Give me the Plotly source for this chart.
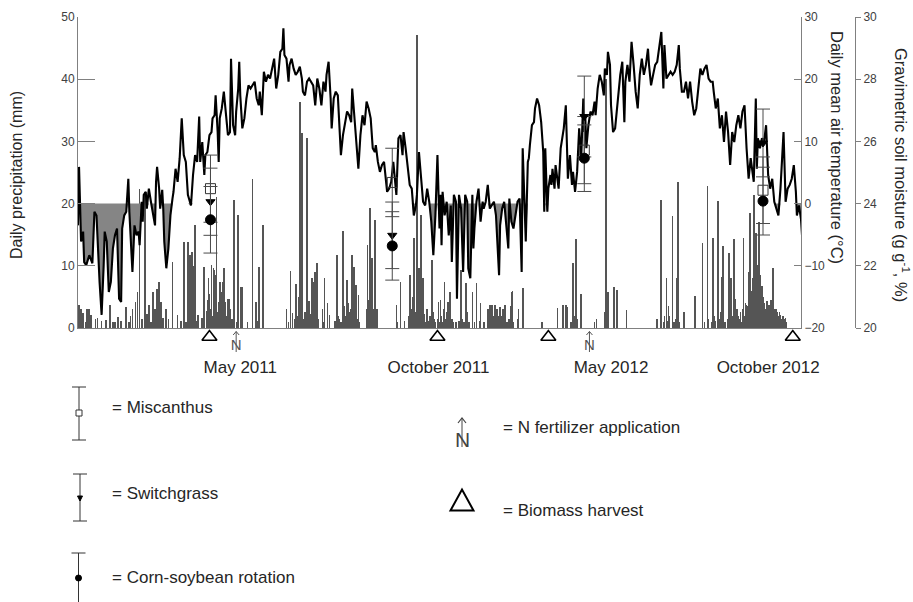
import plotly.graph_objects as go

# ---------------- data (x = day counted from 1 Jan 2011) ----------------
precip = [
    (1,3.7),(2,1.2),(3,3.1),(5,2.4),(8,1.0),(9,3.1),(11,3.1),(13,2.1),(17,1.4),
    (19,1.6),(23,1.1),(27,1.3),(31,3.7),(34,1.0),(36,0.9),(39,1.8),(42,1.2),
    (47,3.4),(50,1.0),(51,2.0),(53,3.1),(56,4.2),(58,5.8),(60,22.4),(62,1.5),(65,21.9),
    (67,2.2),(69,3.7),(71,1.0),(73,5.8),(75,3.1),(77,6.3),(79,7.4),(81,4.2),(83,1.6),(86,3.1),
    (88,1.4),(92,10.6),(97,2.1),(100,1.2),(103,13.9),(105,0.9),(107,13.9),(108,2.5),(109,11.7),
    (110,3.5),(111,12.2),(112,9.9),(113,4.7),(114,16.5),(115,1.2),(117,2.1),(121,1.6),(123,9.8),
    (125,2.8),(126,4.5),(127,8.0),(128,5.5),(129,3.0),(130,10.1),(131,2.0),(132,9.6),(133,9.3),(134,8.5),
    (135,21.1),(136,2.6),(137,4.2),(138,7.4),(139,5.8),(140,1.2),(141,7.4),(142,9.6),(143,4.2),(144,2.0),
    (145,1.2),(146,4.7),(147,4.7),(148,3.1),(150,1.5),(152,20.6),(155,1.0),(156,18.2),
    (159,6.6),(160,6.6),(165,1.0),(170,24.0),(173,4.2),(175,1.2),
    (176,9.8),(180,16.5),
    (203,3.1),(205,1.0),(207,9.1),(209,2.4),(211,1.5),(212,7.0),(214,2.0),(215,5.0),(216,36.3),(217,3.5),
    (218,31.3),(219,1.5),(220,1.2),(221,2.5),(223,30.5),(224,1.8),(225,4.3),(226,1.0),(227,2.2),(228,8.0),
    (229,7.4),(230,3.0),(231,9.0),(232,2.0),(233,10.4),(234,1.5),(238,3.1),(239,1.0),(240,8.0),
    (243,4.0),(245,2.1),(250,1.2),(252,11.8),(253,2.0),(254,1.5),(256,1.0),(258,15.6),
    (259,3.5),(260,1.8),(261,2.0),(262,7.7),(263,4.0),(264,1.5),(265,2.5),(266,3.0),(267,11.7),(268,5.0),
    (269,9.8),(270,2.5),(271,6.9),(272,1.5),(273,5.3),(274,1.0),(281,3.0),(282,13.3),(283,4.5),
    (284,19.3),(285,2.0),(286,11.2),(287,3.0),(288,1.2),(289,17.3),(291,3.1),
    (310,3.7),(311,1.0),(314,7.4),(318,1.2),(322,2.0),(323,8.5),(324,3.0),
    (325,1.5),(326,5.0),(327,14.4),(328,2.5),(329,1.0),(330,47.1),(331,3.5),(332,9.6),(333,2.0),(334,18.1),
    (335,1.5),(336,8.0),(337,2.2),(338,1.0),(340,3.1),(342,1.2),(343,2.0),(344,1.0),(345,10.9),
    (346,2.5),(347,1.5),(348,1.0),(350,1.5),(351,4.2),(352,1.0),
    (353,4.5),(354,2.0),(355,1.0),(356,3.0),(357,7.4),(358,1.5),(359,2.5),(360,4.2),(361,1.0),(362,5.8),
    (364,1.5),(365,1.0),(368,1.0),(371,1.2),(373,9.3),(374,1.5),(376,1.0),
    (378,7.2),(379,2.5),(381,1.0),(384,5.8),(386,1.0),(388,7.2),(391,1.2),
    (392,4.0),(395,1.0),(399,3.0),(400,2.0),(401,3.7),(402,2.5),(403,3.7),(404,2.0),
    (405,1.0),(406,3.7),(407,2.2),(408,3.1),(409,1.5),(410,2.0),(411,3.4),(412,1.0),(413,2.0),(414,3.1),
    (415,1.0),(416,3.7),(418,1.0),(420,1.5),(421,3.5),(422,5.8),(423,5.9),(424,1.0),
    (428,1.5),(429,3.1),(433,6.5),
    (452,1.0),(467,3.2),(472,3.7),(475,3.7),(476,3.4),(480,1.0),(482,10.4),(483,2.0),
    (485,14.3),(486,1.5),(490,5.5),(503,1.0),(505,1.5),
    (513,2.5),(514,40.0),(515,1.0),(516,5.8),(522,6.6),(525,6.1),(534,2.9),
    (564,1.4),(568,20.6),(570,1.0),(571,2.0),(573,8.1),(574,1.2),(575,3.5),(576,2.0),(579,18.0),
    (580,1.0),(582,1.5),(583,8.0),(584,23.5),(585,1.0),(590,2.6),(601,5.2),
    (608,13.7),(610,1.0),(613,22.8),(614,1.5),(617,1.0),(618,14.4),(619,2.0),(620,1.2),
    (623,20.4),(625,1.5),(626,2.5),(627,8.2),(628,13.2),(630,1.0),(633,1.5),(634,12.1),(635,2.5),
    (636,8.0),(637,1.0),(638,2.0),(639,14.3),(640,4.6),(641,1.5),(642,3.0),(643,2.0),(644,1.4),(645,2.5),
    (646,1.0),(647,3.0),(648,14.4),(649,2.0),(650,4.0),(651,3.7),(652,3.5),(653,9.0),(654,18.5),(655,5.8),
    (656,6.0),(657,8.0),(658,21.4),(659,7.4),(660,15.2),(661,9.0),(662,10.1),(663,17.0),(664,8.5),(665,6.0),
    (666,6.8),(667,5.0),(668,4.0),(669,3.1),(670,2.5),(671,4.3),(672,3.0),(673,3.7),(674,2.0),(675,4.5),
    (676,3.0),(677,9.6),(678,2.5),(679,3.1),(680,3.0),(681,2.6),(682,2.0),(683,2.5),(684,2.1),(685,1.5),
    (686,2.0),(687,1.9),(688,1.5),(689,1.6),(690,1.0),
]

temperature = [
    (0,-3.5),(1,5.9),(3,-6.1),(5,-4.5),(6,-9.4),(8,-9.9),(11,-8.3),(14,-9.6),(16,-1.3),(18,-1.9),(21,-12.6),
    (23,-17.9),(25,-9.9),(26,-4.5),(28,-6.1),(30,-14.2),(32,-12.6),(34,-7.2),(36,-5.1),(38,-4.0),(40,-15.3),
    (42,-15.8),(43,-4.0),(45,-1.9),(47,-1.3),(49,4.0),(50,-1.3),(52,-8.3),(53,-11.0),(55,-3.5),(57,-5.1),
    (59,-4.5),(60,-6.7),(62,0.3),(63,-2.9),(64,1.4),(66,1.9),(67,-0.8),(69,2.4),(71,0.3),(73,-1.9),(75,-3.5),
    (76,3.5),(77,5.9),(79,2.4),(80,-0.8),(82,2.2),(83,-0.8),(84,-6.1),(86,-10.4),(88,-7.2),(90,-1.9),(92,0.8),
    (93,1.9),(95,5.6),(97,3.5),(99,7.3),(101,13.7),(103,7.8),(105,6.7),(107,1.4),(110,-0.3),(112,4.6),
    (114,7.8),(116,6.7),(118,14.0),(119,6.7),(121,9.9),(123,4.6),(124,7.8),(126,8.3),(128,11.0),(130,11.5),
    (131,13.7),(133,14.2),(134,17.4),(136,11.5),(137,6.7),(138,13.7),(140,15.3),(142,18.0),(144,14.2),
    (146,11.0),(148,11.5),(149,23.3),(151,12.6),(153,11.0),(154,14.8),(156,18.5),(157,22.8),(158,17.4),
    (160,12.1),(162,13.7),(164,16.9),(166,19.0),(168,18.5),(170,19.0),(172,19.6),(174,16.9),(176,15.8),
    (177,18.0),(179,14.2),(181,21.2),(183,19.6),(185,20.7),(187,20.1),(189,21.7),(191,23.3),(193,18.5),
    (195,20.7),(197,24.4),(199,24.9),(200,28.2),(201,23.9),(203,23.3),(205,19.6),(206,22.3),(208,23.3),
    (210,21.7),(212,20.7),(214,21.2),(216,22.0),(218,20.1),(219,18.0),(221,17.4),(223,19.6),(225,20.1),
    (227,19.6),(229,19.0),(231,15.8),(233,20.1),(235,18.5),(237,15.8),(239,19.6),(241,18.0),(242,20.7),
    (244,22.8),(246,16.9),(247,12.1),(249,16.9),(251,18.0),(253,17.4),(254,14.2),(256,7.8),(258,11.0),
    (260,13.1),(262,14.8),(264,14.2),(266,13.1),(267,18.5),(269,14.2),(271,8.9),(273,5.6),(275,11.0),
    (277,14.2),(279,12.6),(281,16.4),(283,15.3),(285,13.7),(287,8.9),(289,8.3),(290,9.4),(292,6.7),(294,5.1),
    (296,6.2),(298,6.7),(300,4.0),(301,1.9),(303,2.4),(305,3.5),(307,6.7),(308,5.1),(310,1.4),(312,10.5),
    (314,11.0),(316,7.8),(317,11.5),(319,8.9),(321,5.6),(323,3.0),(325,2.4),(327,-1.9),(329,-0.3),(330,1.4),
    (332,8.3),(334,4.6),(336,0.3),(338,-0.3),(340,2.4),(342,0.3),(344,-2.9),(346,-8.3),(348,-1.9),(350,7.8),
    (352,-4.0),
    (353,1.4),(354,-6.7),(355,1.9),(357,-1.9),(359,0.3),(361,-5.1),(363,-0.3),(364,-9.4),(366,1.4),(368,0.3),
    (369,-15.3),(371,1.4),(373,-0.8),(375,-11.0),(377,1.4),(379,0.3),(380,-10.4),(382,-12.0),(384,1.4),
    (385,-7.2),(386,-4.0),(388,0.3),(390,2.4),(392,-2.9),(394,0.3),(395,-0.8),(397,0.3),(399,3.0),(401,-0.8),
    (403,-0.3),(405,0.3),(407,-1.9),(408,-5.1),(410,-11.5),(411,-3.5),(413,-0.8),(415,0.3),(417,-2.9),
    (419,-7.2),(420,0.8),(422,-2.9),(424,-4.0),(426,-1.9),(428,0.3),(430,0.8),(432,-11.0),(433,8.9),(435,0.3),
    (436,-6.1),(438,6.7),(439,7.3),(440,9.4),(442,12.6),(444,13.1),(445,15.3),(447,16.9),(449,15.8),
    (451,13.1),(453,8.3),(454,-1.3),(455,8.9),(457,-1.3),(458,2.4),(460,4.6),(461,3.0),(462,5.6),(464,2.4),
    (465,6.2),(466,4.6),(468,2.4),(470,8.9),(473,12.1),(475,15.8),(477,4.0),(479,7.8),(480,5.6),(481,3.0),
    (482,5.1),(484,1.9),(486,5.1),(488,12.1),(490,7.3),(492,16.9),(493,11.5),(494,13.7),(495,8.9),(497,12.6),
    (499,14.8),(501,14.2),(503,16.4),(504,14.2),(506,18.5),(508,20.7),(510,19.6),(512,17.4),(513,21.7),
    (515,20.7),(516,24.4),(518,22.3),(519,15.8),(521,11.5),(523,12.1),(525,15.8),(527,19.6),
    (528,20.7),(530,22.8),(532,13.1),(533,19.6),(535,22.3),(537,19.6),(539,26.0),(541,22.3),(543,18.0),
    (545,15.3),(547,20.7),(549,23.3),(551,20.7),(553,22.3),(555,24.9),(556,22.3),(558,19.0),(560,20.7),
    (562,22.3),(564,22.8),(566,24.9),(568,27.6),(570,18.5),(571,25.5),(573,20.1),(575,20.7),(577,21.2),
    (579,20.7),(581,21.2),(583,22.3),(585,25.5),(586,21.7),(588,18.0),(590,18.0),(592,19.6),(594,16.9),
    (596,19.6),(598,16.4),(600,14.2),(602,15.3),(604,18.0),(606,21.7),(608,20.7),(610,21.7),(612,22.3),
    (614,20.1),(616,19.6),(618,19.6),(619,18.0),(621,15.3),(623,16.9),(625,12.1),(627,14.2),(629,9.9),
    (631,14.8),(633,11.5),(635,6.2),(637,11.5),(639,9.9),(641,12.6),(643,14.2),(645,12.1),(647,14.8),
    (649,15.8),(651,8.9),(653,4.0),(655,7.3),(656,6.2),(658,3.5),(660,16.9),(661,5.6),(662,10.5),(664,8.9),
    (666,10.5),(668,9.9),(670,12.6),(672,4.6),(674,2.4),(676,4.0),(678,0.3),(680,-0.8),(682,-1.9),(684,2.4),
    (686,7.3),(687,11.5),(689,0.3),(691,2.4),(693,3.0),(695,4.0),(697,6.2),(699,1.9),(700,-1.9),(702,-0.3),
    (704,-2.5),(705,-5.1),
]

sample_days = [129, 306, 493, 667]
miscanthus = [24.48, 24.68, 25.72, 24.43]
miscanthus_err = [1.08, 1.10, 1.08, 1.07]
switchgrass = [24.06, 22.98, 26.80, 25.95]
switchgrass_err = [1.08, 1.07, 1.30, 1.09]
corn_soy = [23.48, 22.64, 25.46, 24.08]
corn_soy_err = [1.07, 1.10, 1.07, 1.09]

harvest_days = [128, 350, 458, 696]
n_fert_days = [154, 498]

month_tick_days = [158, 351, 519, 672]
month_tick_text = ["May 2011", "October 2011", "May 2012", "October 2012"]

# ---------------- layout geometry ----------------
W, H = 913, 602
ML, MR, MT, MB = 78, 58, 17, 242          # plotting region 78..855 x 17..360
PW, PH = W - ML - MR, H - MT - MB
AXIS_Y = 328                               # pixel row of the time axis
XDOM = (801 - ML) / PW
YDOM0 = (H - MB - AXIS_Y) / PH
MM_PER_PX = 50 / (AXIS_Y - MT)
BAND_MIN = -(H - MB - AXIS_Y) * MM_PER_PX  # strip below the axis, same mm scale

def px(x):
    return (x - ML) / PW

def py(y):
    return (H - MB - y) / PH

def band(y):  # pixel row below the axis -> value on the strip axis
    return -(y - AXIS_Y) * MM_PER_PX

FONT = "Liberation Sans, Arial, sans-serif"
AX = "#808080"
TXT = "#262626"

p_day = [d for d, _ in precip]
p_mm = [v for _, v in precip]
t_day = [d for d, _ in temperature]
t_c = [v for _, v in temperature]

fig = go.Figure()

fig.add_trace(go.Bar(x=p_day, y=p_mm, width=0.7, marker=dict(color="#555555", line=dict(width=0)),
                     xaxis="x", yaxis="y", hoverinfo="skip"))

fig.add_trace(go.Scatter(x=t_day, y=[0] * len(t_day), mode="lines", line=dict(width=0),
                         xaxis="x", yaxis="y2", hoverinfo="skip"))
fig.add_trace(go.Scatter(x=t_day, y=[min(v, 0) for v in t_c], mode="lines", line=dict(width=0),
                         fill="tonexty", fillcolor="#858585", xaxis="x", yaxis="y2", hoverinfo="skip"))
fig.add_trace(go.Scatter(x=t_day, y=t_c, mode="lines", line=dict(color="black", width=2.1),
                         xaxis="x", yaxis="y2"))

def soil(vals, errs, symbol, size, fill):
    return go.Scatter(x=sample_days, y=vals, mode="markers", xaxis="x", yaxis="y3",
                      marker=dict(symbol=symbol, size=size, color=fill, line=dict(color="black", width=1)),
                      error_y=dict(type="data", array=errs, visible=True, color="#4a4a4a", thickness=1, width=7))

fig.add_trace(soil(miscanthus, miscanthus_err, "square-open", 10, "#333333"))
fig.add_trace(soil(switchgrass, switchgrass_err, "triangle-down", 8, "black"))
fig.add_trace(soil(corn_soy, corn_soy_err, "circle", 10, "black"))

# event markers in the strip under the time axis
fig.add_trace(go.Scatter(x=harvest_days, y=[band(337)] * len(harvest_days), mode="markers", cliponaxis=False,
                         marker=dict(symbol="triangle-up-open", size=13, color="black", line=dict(width=1.6)),
                         xaxis="x", yaxis="y4"))
fig.add_trace(go.Scatter(x=n_fert_days, y=[band(346)] * len(n_fert_days), mode="text", text=["N"] * len(n_fert_days),
                         cliponaxis=False, textfont=dict(family=FONT, size=15, color="#555555"),
                         xaxis="x", yaxis="y4"))

shapes = []
DAY_PER_PX = 704 / (801 - ML)
for d in n_fert_days:
    shapes.append(dict(type="line", xref="x", yref="y4", x0=d, x1=d, y0=band(352), y1=band(331.5),
                       line=dict(color="#555555", width=1)))
    shapes.append(dict(type="path", xref="x", yref="y4",
                       path=f"M {d - 3 * DAY_PER_PX} {band(335)} L {d} {band(331.5)} L {d + 3 * DAY_PER_PX} {band(335)}",
                       line=dict(color="#555555", width=1)))

annotations = []
# axis titles
annotations.append(dict(x=px(16), y=py(175), xref="paper", yref="paper", text="Daily precipitation (mm)",
                        xanchor="center", yanchor="middle",
                        textangle=-90, showarrow=False, font=dict(family=FONT, size=16, color=TXT)))
annotations.append(dict(x=px(837), y=py(147), xref="paper", yref="paper", text="Daily mean air temperature (°C)",
                        xanchor="center", yanchor="middle",
                        textangle=90, showarrow=False, font=dict(family=FONT, size=16.5, color=TXT)))
annotations.append(dict(x=px(902), y=py(175), xref="paper", yref="paper",
                        text="Gravimetric soil moisture (g g<sup>-1</sup>, %)",
                        xanchor="center", yanchor="middle",
                        textangle=90, showarrow=False, font=dict(family=FONT, size=16.5, color=TXT)))

# ---------------- key below the chart ----------------
LEG = "#333333"
def errbar(xc, y0, y1, caps=(True, True)):
    shapes.append(dict(type="line", xref="paper", yref="paper", x0=px(xc), x1=px(xc), y0=py(y0), y1=py(y1),
                       line=dict(color=LEG, width=1)))
    for yy, c in zip((y0, y1), caps):
        if c:
            shapes.append(dict(type="line", xref="paper", yref="paper", x0=px(xc - 7), x1=px(xc + 7),
                               y0=py(yy), y1=py(yy), line=dict(color=LEG, width=1)))

errbar(79, 387, 440)
shapes.append(dict(type="rect", xref="paper", yref="paper", x0=px(76), x1=px(82), y0=py(410), y1=py(416),
                   line=dict(color=LEG, width=1), fillcolor="white"))
errbar(80, 474, 521)
shapes.append(dict(type="path", xref="paper", yref="paper",
                   path=f"M {px(77.5)} {py(496)} L {px(82.5)} {py(496)} L {px(80)} {py(501)} Z",
                   line=dict(color="black", width=1), fillcolor="black"))
errbar(78.5, 553, 603, caps=(True, False))
shapes.append(dict(type="circle", xref="paper", yref="paper", x0=px(75.5), x1=px(81.5), y0=py(575), y1=py(581),
                   line=dict(color="black", width=1), fillcolor="black"))
shapes.append(dict(type="path", xref="paper", yref="paper",
                   path=f"M {px(450.5)} {py(510.5)} L {px(473.5)} {py(510.5)} L {px(462)} {py(489.5)} Z",
                   line=dict(color="black", width=2), fillcolor="rgba(0,0,0,0)"))
# N-fertilizer key symbol
annotations.append(dict(x=px(462), y=py(439), xref="paper", yref="paper", text="N", showarrow=False,
                        xanchor="center", yanchor="middle",
                        font=dict(family=FONT, size=21, color="#444444")))
shapes.append(dict(type="line", xref="paper", yref="paper", x0=px(462), x1=px(462), y0=py(447), y1=py(418),
                   line=dict(color="#444444", width=1)))
shapes.append(dict(type="path", xref="paper", yref="paper",
                   path=f"M {px(458)} {py(423)} L {px(462)} {py(418)} L {px(466)} {py(423)}",
                   line=dict(color="#444444", width=1.2)))

for txt, x, y in [("= Miscanthus", 110, 407), ("= Switchgrass", 110, 493), ("= Corn-soybean rotation", 110, 577),
                  ("= N fertilizer application", 501, 427), ("= Biomass harvest", 501, 510)]:
    annotations.append(dict(x=px(x), y=py(y), xref="paper", yref="paper", text=txt, showarrow=False,
                            xanchor="left", yanchor="middle", font=dict(family=FONT, size=17, color=TXT)))

fig.update_layout(
    template="none",
    width=W, height=H,
    margin=dict(l=ML, r=MR, t=MT, b=MB, pad=0),
    paper_bgcolor="white", plot_bgcolor="rgba(0,0,0,0)",
    showlegend=False, barmode="overlay", bargap=0,
    font=dict(family=FONT, color=TXT),
    xaxis=dict(domain=[0, XDOM], range=[0, 704], anchor="y", showgrid=False, zeroline=False, showline=True,
               linecolor=AX, linewidth=1, ticks="outside", ticklen=24, tickcolor="rgba(0,0,0,0)",
               tickvals=month_tick_days, ticktext=month_tick_text,
               tickfont=dict(family=FONT, size=17, color=TXT), automargin=False),
    yaxis=dict(domain=[YDOM0, 1], range=[0, 50], tickvals=[0, 10, 20, 30, 40, 50], showgrid=False,
               zeroline=False, showline=True, linecolor=AX, linewidth=1, ticks="inside", ticklen=17,
               tickcolor=AX, tickfont=dict(family=FONT, size=12, color="#404040"), automargin=False),
    yaxis2=dict(domain=[YDOM0, 1], range=[-20, 30], tickvals=[-20, -10, 0, 10, 20, 30], overlaying="y",
                side="right", anchor="x", showgrid=False, zeroline=False, showline=True, linecolor=AX,
                linewidth=1, ticks="inside", ticklen=7, tickcolor=AX,
                tickfont=dict(family=FONT, size=12, color="#404040"), automargin=False),
    yaxis3=dict(domain=[YDOM0, 1], range=[20, 30], tickvals=[20, 22, 24, 26, 28, 30], overlaying="y",
                side="right", anchor="free", position=1.0, showgrid=False, zeroline=False, showline=True,
                linecolor=AX, linewidth=1, ticks="outside", ticklen=5, tickcolor=AX,
                tickfont=dict(family=FONT, size=12, color="#404040"), automargin=False),
    yaxis4=dict(domain=[0, YDOM0], range=[BAND_MIN, 0], anchor="x", visible=False, showgrid=False,
                zeroline=False, fixedrange=True),
    annotations=annotations,
    shapes=shapes,
)

fig.write_html("out.html")
